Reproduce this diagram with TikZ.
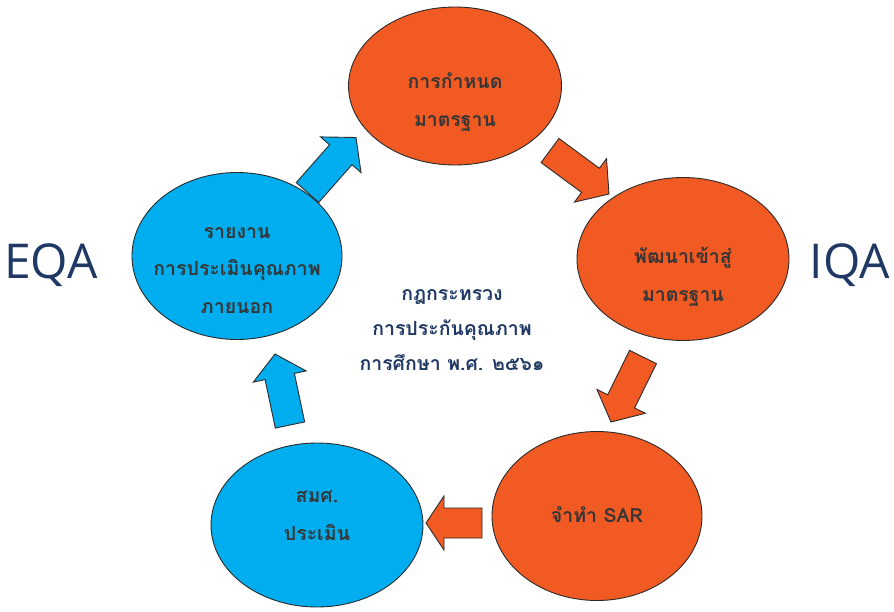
\documentclass[tikz,border=0pt]{standalone}
\usepackage{fontspec}
\usetikzlibrary{shapes.geometric,calc}
\newfontfamily\thaifont[Script=Thai]{Loma}
\newfontfamily\latinfont{Open Sans}
\definecolor{orng}{HTML}{F15A22}
\definecolor{cyanb}{HTML}{00AEEF}
\definecolor{navy}{HTML}{1F3864}
\definecolor{txtg}{HTML}{363636}
\definecolor{outl}{HTML}{2B2B2B}
\newcommand\blockarrow[4]{%
  \coordinate (#2n) at ($(#3)!#4!(#2)$);
  \draw[#1] ($(#2)!15pt!90:(#3)$)
    -- ($(#2n)!15pt!90:(#3)$)
    -- ($(#2n)!27pt!90:(#3)$)
    -- (#3)
    -- ($(#2n)!27pt!-90:(#3)$)
    -- ($(#2n)!15pt!-90:(#3)$)
    -- ($(#2)!15pt!-90:(#3)$) -- cycle;
}
\begin{document}
\begin{tikzpicture}[x=1pt,y=-1pt,
  bub/.style={ellipse, draw=outl, line width=0.9pt, inner sep=0pt},
  orb/.style={bub, fill=orng},
  blb/.style={bub, fill=cyanb},
  btxt/.style={anchor=base, inner sep=0pt, text=txtg, font=\thaifont\bfseries\fontsize{19.5}{24}\selectfont},
  ctxt/.style={anchor=base, inner sep=0pt, text=navy, font=\thaifont\bfseries\fontsize{19.5}{24}\selectfont},
  side/.style={anchor=base, inner sep=0pt, text=navy, font=\latinfont\fontsize{48}{56}\selectfont},
  oarr/.style={fill=orng, draw=outl, line width=0.9pt, line join=miter},
  barr/.style={fill=cyanb, draw=outl, line width=0.9pt, line join=miter}]
\useasboundingbox (0,0) rectangle (894,611);

% ellipses
\node[orb, minimum width=213, minimum height=158] (e1) at (455,86) {};
\node[orb, minimum width=212, minimum height=163] (e2) at (683,259) {};
\node[orb, minimum width=210, minimum height=169] (e3) at (597,516) {};
\node[blb, minimum width=212, minimum height=164] (e4) at (317,525) {};
\node[blb, minimum width=210, minimum height=167] (e5) at (237,256) {};

% texts in ellipses
\node[btxt] (t1a) at (455,88) {การกำหนด};
\node[btxt] (t1b) at (455,126) {มาตรฐาน};
\node[btxt] (t2a) at (683,263) {พัฒนาเข้าสู่};
\node[btxt] (t2b) at (683,301) {มาตรฐาน};
\node[btxt] (t3a) at (597,522) {จำทำ SAR};
\node[btxt] (t4a) at (317,502) {สมศ.};
\node[btxt] (t4b) at (317,540) {ประเมิน};
\node[btxt] (t5a) at (237,238) {รายงาน};
\node[btxt] (t5b) at (237,275) {การประเมินคุณภาพ};
\node[btxt] (t5c) at (237,313) {ภายนอก};

% centre text
\node[ctxt] (c1) at (452,300) {กฎกระทรวง};
\node[ctxt] (c2) at (452,335) {การประกันคุณภาพ};
\node[ctxt] (c3) at (452,370) {การศึกษา พ.ศ. ๒๕๖๑};

% side labels
\node[side] (eqa) at (51,278) {EQA};
\node[side] (iqa) at (850,278) {IQA};

% block arrows
\coordinate (a1) at (550,150.5); \coordinate (b1) at (609,194);
\coordinate (a2) at (643,357);   \coordinate (b2) at (611,422);
\coordinate (a3) at (482,523);   \coordinate (b3) at (426,523);
\coordinate (a4) at (290,425);   \coordinate (b4) at (275,354);
\coordinate (a5) at (307.5,192.5); \coordinate (b5) at (356,137.5);
\blockarrow{oarr}{a1}{b1}{23pt}
\blockarrow{oarr}{a2}{b2}{23pt}
\blockarrow{oarr}{a3}{b3}{18pt}
\blockarrow{barr}{a4}{b4}{23pt}
\blockarrow{barr}{a5}{b5}{23pt}
\end{tikzpicture}
\end{document}
